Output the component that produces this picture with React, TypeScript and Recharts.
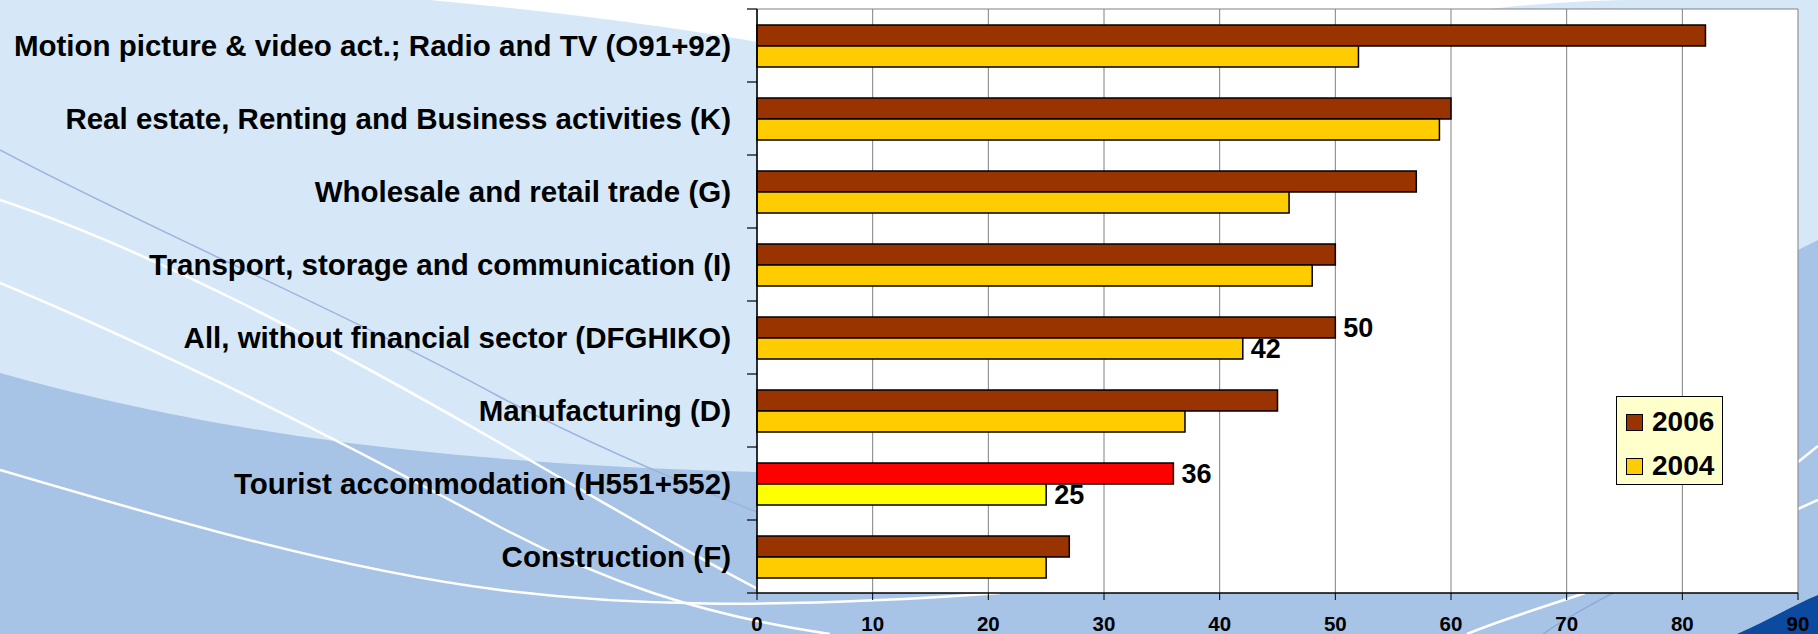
import { BarChart, Bar, XAxis, YAxis, CartesianGrid, Cell, LabelList, Legend } from "recharts";

const categories = [
  "Motion picture & video act.; Radio and TV (O91+92)",
  "Real estate, Renting and Business activities (K)",
  "Wholesale and retail trade (G)",
  "Transport, storage and communication (I)",
  "All, without financial sector (DFGHIKO)",
  "Manufacturing (D)",
  "Tourist accommodation (H551+552)",
  "Construction (F)",
];
const seriesNames = ["2006", "2004"];
const values2006 = [82, 60, 57, 50, 50, 45, 36, 27];
const values2004 = [52, 59, 46, 48, 42, 37, 25, 25];
const labelledCategories = ["All, without financial sector (DFGHIKO)", "Tourist accommodation (H551+552)"];
const highlightCategory = "Tourist accommodation (H551+552)";
const xTicks = [0, 10, 20, 30, 40, 50, 60, 70, 80, 90];

const W = 1818;
const H = 634;
const MARGIN = { top: 9, right: 20, bottom: 0, left: 0 };
const Y_AXIS_W = 757;
const X_AXIS_H = 41;
const AXIS_X = MARGIN.left + Y_AXIS_W;
const BAND = (H - MARGIN.top - MARGIN.bottom - X_AXIS_H) / categories.length;
const FONT = "Arial, 'Liberation Sans', sans-serif";

const data = categories.map((name, i) => ({
  name,
  v2006: values2006[i],
  v2004: values2004[i],
  lbl2006: labelledCategories.includes(name) ? values2006[i] : undefined,
  lbl2004: labelledCategories.includes(name) ? values2004[i] : undefined,
}));

const CategoryTick = (props: any) => {
  const { y, payload, index } = props;
  return (
    <g>
      <text
        x={AXIS_X - 26}
        y={y}
        dy="0.34em"
        textAnchor="end"
        fontSize={29.5}
        fontWeight="bold"
        fontFamily={FONT}
        fill="#000"
      >
        {payload.value}
      </text>
      <line x1={AXIS_X - 10} x2={AXIS_X} y1={y - BAND / 2} y2={y - BAND / 2} stroke="#000" strokeWidth={1.2} />
      {index === categories.length - 1 && (
        <line x1={AXIS_X - 10} x2={AXIS_X} y1={y + BAND / 2} y2={y + BAND / 2} stroke="#000" strokeWidth={1.2} />
      )}
    </g>
  );
};

const renderLegend = (props: any) => {
  const items = [...(props.payload || [])].sort(
    (a: any, b: any) => seriesNames.indexOf(a.value) - seriesNames.indexOf(b.value)
  );
  return (
    <div
      style={{
        background: "#FFFFCC",
        border: "1px solid #000",
        width: 107,
        height: 89,
        boxSizing: "border-box",
        paddingTop: 3,
        paddingLeft: 9,
        fontFamily: FONT,
      }}
    >
      {items.map((entry: any) => (
        <div key={entry.value} style={{ display: "flex", alignItems: "center", height: 44 }}>
          <span
            style={{
              display: "inline-block",
              width: 17,
              height: 17,
              boxSizing: "border-box",
              background: entry.color,
              border: "1.5px solid #000",
              marginRight: 9,
            }}
          />
          <span style={{ fontSize: 28, fontWeight: "bold", color: "#000", lineHeight: "28px" }}>{entry.value}</span>
        </div>
      ))}
    </div>
  );
};

const Background = () => (
  <svg width={W} height={H} style={{ position: "absolute", left: 0, top: 0 }}>
    <rect x={0} y={0} width={W} height={H} fill="#D6E8F8" />
    <path d="M430,0 C560,12 680,28 757,42 L757,0 Z" fill="#fff" />
    <rect x={757} y={0} width={1061} height={9} fill="#fff" />
    <path d="M1490,9 C1540,3 1600,0 1640,0 L1818,0 L1818,9 Z" fill="#D6E8F8" />
    <path
      d="M0,373 C170,420 380,462 757,472 L757,593 L1798,593 L1798,250 L1818,240 L1818,634 L0,634 Z"
      fill="#A7C4E7"
    />
    <path d="M1737,634 C1770,620 1795,604 1818,595 L1818,634 Z" fill="#0B4A9E" />
    <path d="M0,150 C150,230 330,305 500,397 C600,450 700,490 757,512" stroke="#9DB3DC" strokeWidth={1.5} fill="none" />
    <path d="M0,200 C150,250 330,345 500,443 C600,500 700,560 760,590" stroke="#fff" strokeWidth={2.5} fill="none" />
    <path d="M0,283 C160,350 340,440 500,527 C600,580 700,615 830,634" stroke="#fff" strokeWidth={2.5} fill="none" />
    <path d="M0,470 C170,520 340,570 500,590 C620,605 760,610 1000,593" stroke="#fff" strokeWidth={2.5} fill="none" />
    <path d="M1467,634 C1500,620 1550,605 1585,593" stroke="#fff" strokeWidth={2.5} fill="none" />
    <path d="M1543,634 C1570,615 1600,600 1613,593" stroke="#8FA9D6" strokeWidth={1.5} fill="none" />
    <path d="M1798,462 L1818,446" stroke="#fff" strokeWidth={2.5} fill="none" />
    <path d="M1798,509 L1818,500" stroke="#fff" strokeWidth={2.5} fill="none" />
  </svg>
);

const App = () => {
  return (
    <div style={{ position: "absolute", left: 0, top: 0, width: W, height: H, fontFamily: FONT }}>
      <Background />
      <div style={{ position: "absolute", left: 0, top: 0 }}>
        <BarChart
          width={W}
          height={H}
          data={data}
          layout="vertical"
          margin={MARGIN}
          barGap={0}
          barSize={21}
        >
          <CartesianGrid
            stroke="#808080"
            fill="#fff"
            horizontalCoordinatesGenerator={({ offset }: any) => [offset.top]}
          />
          <XAxis
            type="number"
            domain={[0, 90]}
            ticks={xTicks}
            interval={0}
            height={X_AXIS_H}
            tickSize={7}
            tickMargin={16}
            axisLine={{ stroke: "#000", strokeWidth: 1.5 }}
            tickLine={{ stroke: "#000" }}
            tick={{ fontSize: 20.5, fontWeight: "bold", fill: "#000", fontFamily: FONT }}
          />
          <YAxis
            type="category"
            dataKey="name"
            width={Y_AXIS_W}
            interval={0}
            tickLine={false}
            axisLine={{ stroke: "#000", strokeWidth: 1.5 }}
            tick={<CategoryTick />}
          />
          <Legend
            layout="vertical"
            align="center"
            verticalAlign="middle"
            content={renderLegend}
            wrapperStyle={{ left: 1616, top: 396, width: 107, height: 89 }}
          />
          <Bar dataKey="v2006" name="2006" fill="#993300" stroke="#000" strokeWidth={1.5} isAnimationActive={false}>
            {data.map((d) => (
              <Cell key={d.name} fill={d.name === highlightCategory ? "#FF0000" : "#993300"} />
            ))}
            <LabelList
              dataKey="lbl2006"
              position="right"
              offset={8}
              style={{ fontSize: 27, fontWeight: "bold", fill: "#000", fontFamily: FONT }}
            />
          </Bar>
          <Bar dataKey="v2004" name="2004" fill="#FFCC00" stroke="#000" strokeWidth={1.5} isAnimationActive={false}>
            {data.map((d) => (
              <Cell key={d.name} fill={d.name === highlightCategory ? "#FFFF00" : "#FFCC00"} />
            ))}
            <LabelList
              dataKey="lbl2004"
              position="right"
              offset={8}
              style={{ fontSize: 27, fontWeight: "bold", fill: "#000", fontFamily: FONT }}
            />
          </Bar>
        </BarChart>
      </div>
    </div>
  );
}

export default App;
